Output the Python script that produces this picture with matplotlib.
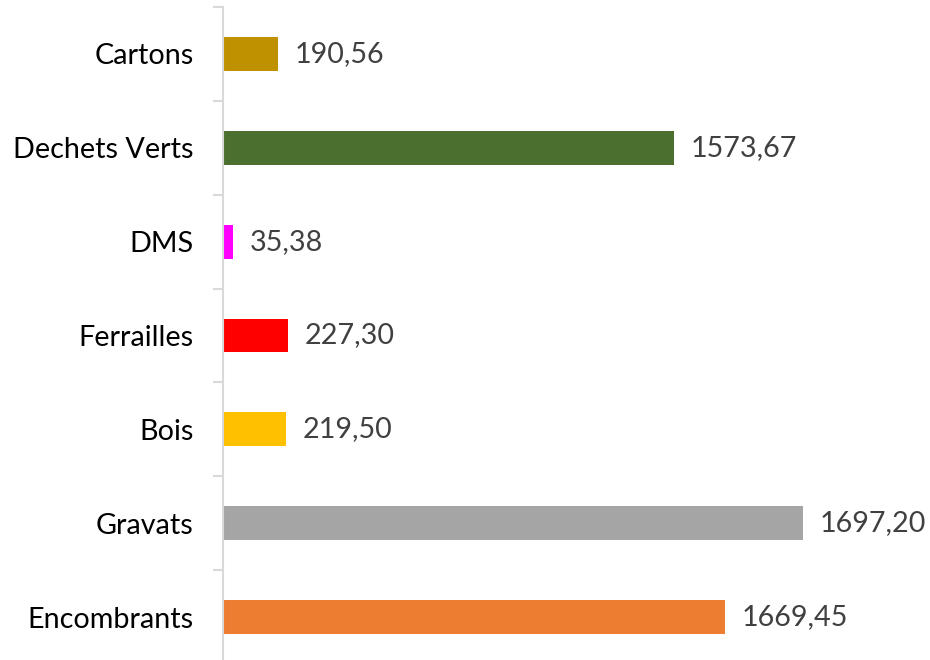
import numpy as np
import matplotlib.pyplot as plt

# Data (bottom to top)
categories = ['Encombrants', 'Gravats', 'Bois', 'Ferrailles', 'DMS', 'Dechets Verts', 'Cartons']
values = [1669.45, 1697.20, 219.50, 227.30, 35.38, 1573.67, 190.56]
# bar lengths as drawn in the picture (two bars are longer than their labels)
bar_lengths = [1753, 2024, 219.50, 227.30, 35.38, 1573.67, 190.56]
labels = ['1669,45', '1697,20', '219,50', '227,30', '35,38', '1573,67', '190,56']
colors = ['#ED7D31', '#A5A5A5', '#FFC000', '#FF0000', '#FF00FF', '#4B6F2F', '#BF9000']

plt.rcParams['font.family'] = ['Lato', 'DejaVu Sans']

fig = plt.figure(figsize=(9.3, 6.6), dpi=100)
ax = fig.add_axes([223 / 930, -4 / 660, 707 / 930, 657 / 660])

y = np.arange(len(categories))
bars = ax.barh(y, bar_lengths, height=0.36, color=colors)

for b, lab in zip(bars, labels):
    ax.annotate(lab, (b.get_width(), b.get_y() + b.get_height() / 2),
                xytext=(12, 0), textcoords='offset points',
                va='center', ha='left', fontsize=20.7, color='#404040')

ax.set_xlim(0, 707 / 0.2865)
ax.set_ylim(-0.5, len(categories) - 0.5)

ax.set_yticks(y)
ax.set_yticklabels(categories, fontsize=20.7, color='black')
ax.set_yticks(np.arange(-0.5, len(categories)), minor=True)
ax.tick_params(axis='y', which='major', length=0, pad=21)
ax.tick_params(axis='y', which='minor', length=7, width=1.5, color='#d9d9d9')
ax.set_xticks([])

for s in ['top', 'right', 'bottom']:
    ax.spines[s].set_visible(False)
ax.spines['left'].set_color('#d9d9d9')
ax.spines['left'].set_linewidth(1.5)

fig.savefig('out.png', dpi=100)
